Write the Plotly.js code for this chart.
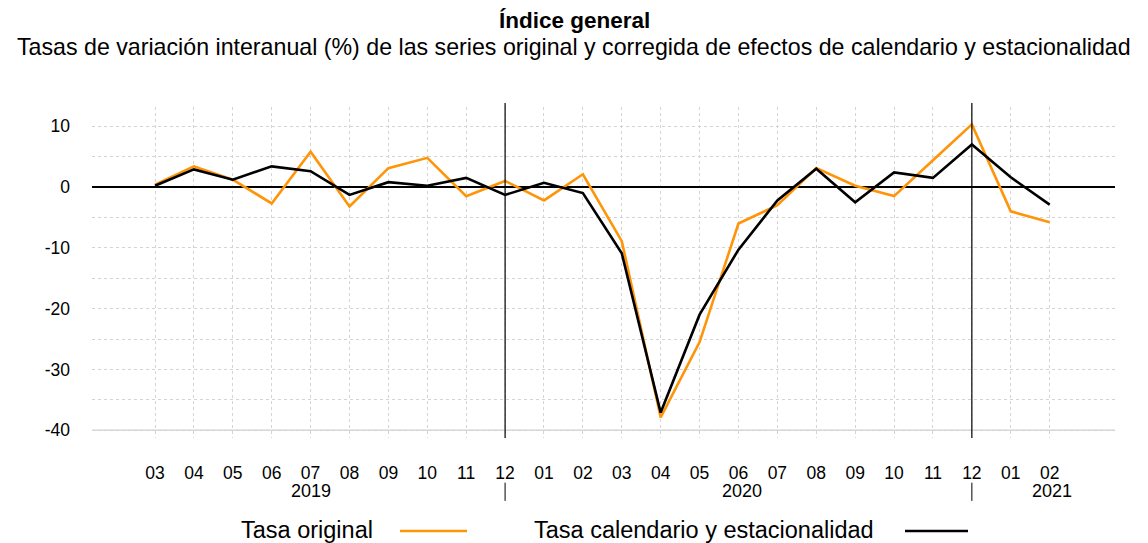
<!DOCTYPE html>
<html>
<head>
<meta charset="utf-8">
<script src="https://cdn.plot.ly/plotly-3.0.1.min.js"></script>
<style>html,body{margin:0;padding:0;background:#fff;}#chart{width:1148px;height:543px;}</style>
</head>
<body>
<div id="chart"></div>
<script>
const months = ["03","04","05","06","07","08","09","10","11","12","01","02","03","04","05","06","07","08","09","10","11","12","01","02"];
const tasaOriginal = [0.4, 3.4, 1.2, -2.7, 5.8, -3.2, 3.1, 4.8, -1.5, 1.0, -2.2, 2.1, -8.9, -37.9, -25.5, -6.0, -3.0, 3.1, 0.2, -1.5, 4.4, 10.3, -4.0, -5.8];
const tasaCalEst = [0.2, 2.9, 1.2, 3.4, 2.6, -1.3, 0.8, 0.2, 1.5, -1.3, 0.7, -1.0, -10.9, -37.1, -21.0, -10.3, -2.2, 3.0, -2.5, 2.4, 1.5, 7.0, 1.6, -2.9];
const yTickVals = [10, 0, -10, -20, -30, -40];
const yTickText = ["10", "0", "-10", "-20", "-30", "-40"];
const years = ["2019", "2020", "2021"];
const yearPos = [4, 15.1, 23.05];
const yearBreaks = [9, 21];
const seriesNames = ["Tasa original", "Tasa calendario y estacionalidad"];
const seriesColors = ["#FF9408", "#000000"];

const idx = months.map((m, i) => i);
const FONT = "Liberation Sans, Arial, sans-serif";

const traces = [
  {x: idx, y: tasaOriginal, type: "scatter", mode: "lines", name: seriesNames[0],
   line: {color: seriesColors[0], width: 2.6}, showlegend: false},
  {x: idx, y: tasaCalEst, type: "scatter", mode: "lines", name: seriesNames[1],
   line: {color: seriesColors[1], width: 2.6}, showlegend: false}
];

const shapes = [];
shapes.push({type: "line", xref: "paper", yref: "y", x0: 0, x1: 1, y0: -40, y1: -40,
  line: {color: "#cfcfcf", width: 1.2}, layer: "below"});
yearBreaks.forEach(b => {
  shapes.push({type: "line", xref: "x", yref: "paper", x0: b, x1: b, y0: 0, y1: 1.012,
    line: {color: "#000", width: 1.2}, layer: "above"});
  shapes.push({type: "line", xref: "x", yref: "paper", x0: b, x1: b, y0: -0.135, y1: -0.19,
    line: {color: "#000", width: 1}});
});
shapes.push({type: "line", xref: "paper", yref: "paper", x0: (400-92)/1023, x1: (467-92)/1023,
  y0: -(531-438)/331, y1: -(531-438)/331, line: {color: seriesColors[0], width: 2.6}});
shapes.push({type: "line", xref: "paper", yref: "paper", x0: (905-92)/1023, x1: (968-92)/1023,
  y0: -(531-438)/331, y1: -(531-438)/331, line: {color: seriesColors[1], width: 2.6}});

const annotations = [];
years.forEach((y, i) => {
  annotations.push({text: y, x: yearPos[i], xref: "x", y: -(491-438)/331, yref: "paper",
    showarrow: false, xanchor: "center", yanchor: "middle", font: {family: FONT, size: 18, color: "#000"}});
});
annotations.push({text: seriesNames[0], xref: "paper", yref: "paper", x: (375-92)/1023, y: -(530-438)/331,
  xanchor: "right", yanchor: "middle", showarrow: false, font: {family: FONT, size: 23.5, color: "#000"}});
annotations.push({text: seriesNames[1], xref: "paper", yref: "paper", x: (876-92)/1023, y: -(530-438)/331,
  xanchor: "right", yanchor: "middle", showarrow: false, font: {family: FONT, size: 23.5, color: "#000"}});
annotations.push({text: "<b>Índice general</b>", xref: "paper", yref: "paper", x: (574-92)/1023, y: 1 + (107-20)/331,
  xanchor: "center", yanchor: "middle", showarrow: false, font: {family: FONT, size: 22.5, color: "#000"}});
annotations.push({text: "Tasas de variación interanual (%) de las series original y corregida de efectos de calendario y estacionalidad",
  xref: "paper", yref: "paper", x: (574-92)/1023, y: 1 + (107-47)/331,
  xanchor: "center", yanchor: "middle", showarrow: false, font: {family: FONT, size: 23.2, color: "#000"}});

const layout = {
  width: 1148, height: 543,
  margin: {l: 92, r: 33, t: 107, b: 105},
  paper_bgcolor: "#fff", plot_bgcolor: "#fff",
  font: {family: FONT, color: "#000"},
  showlegend: false,
  xaxis: {
    range: [-1.62, 24.68], tickmode: "array", tickvals: idx, ticktext: months,
    showgrid: true, gridcolor: "#d4d4d4", griddash: "3px,3px", gridwidth: 1,
    zeroline: false, showline: false, ticks: "", ticklabelstandoff: 22,
    tickfont: {family: FONT, size: 17.5, color: "#000"}, fixedrange: true
  },
  yaxis: {
    range: [-41.28, 13.16], tickmode: "array", tickvals: yTickVals, ticktext: yTickText,
    showgrid: true, gridcolor: "#d4d4d4", griddash: "3px,3px", gridwidth: 1,
    minor: {tickvals: [5, -5, -15, -25, -35], showgrid: true, gridcolor: "#d4d4d4", griddash: "3px,3px", gridwidth: 1},
    zeroline: true, zerolinecolor: "#000", zerolinewidth: 1.3,
    showline: false, ticks: "", ticklabelstandoff: 21,
    tickfont: {family: FONT, size: 17.5, color: "#000"}, fixedrange: true
  },
  shapes: shapes,
  annotations: annotations
};

Plotly.newPlot("chart", traces, layout, {displayModeBar: false, staticPlot: true});
</script>
</body>
</html>
